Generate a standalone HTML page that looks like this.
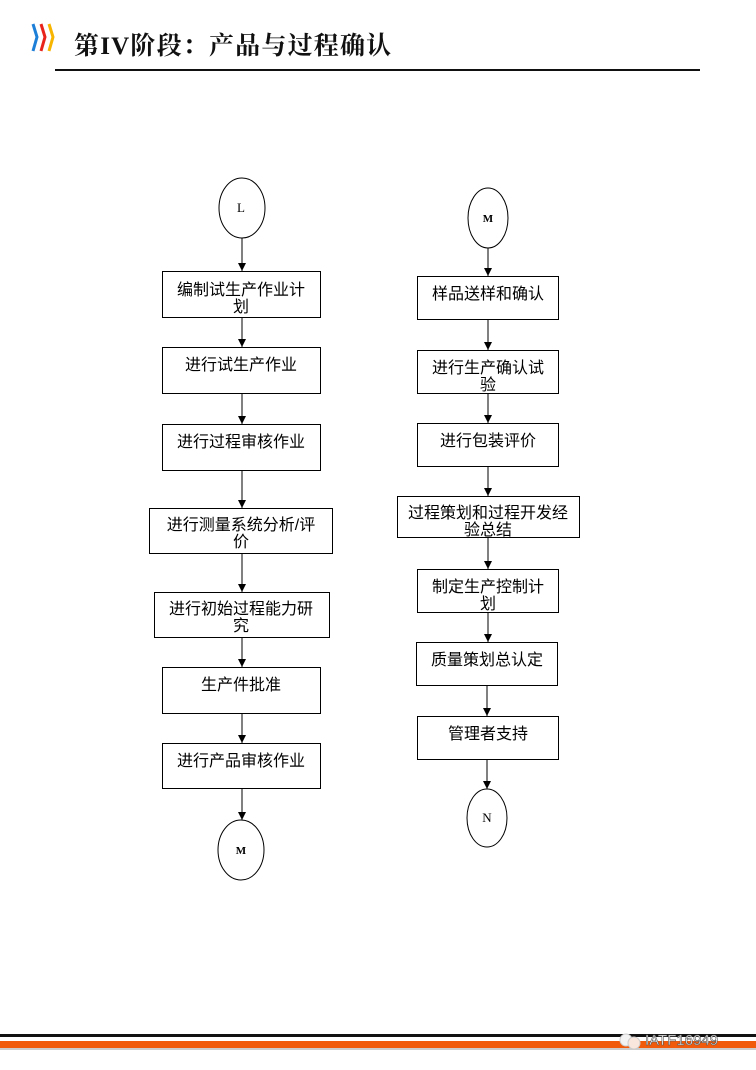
<!DOCTYPE html>
<html><head><meta charset="utf-8"><style>
html,body{margin:0;padding:0;background:#fff;}
body{width:756px;height:1070px;position:relative;overflow:hidden;}
svg{position:absolute;left:0;top:0;}
.t{font-family:"Liberation Sans","Noto Sans CJK SC",sans-serif;font-size:16px;fill:#000;}
.c{font-family:"Liberation Serif",serif;font-size:13px;fill:#000;}
</style></head><body>
<svg width="756" height="1070" viewBox="0 0 756 1070" xmlns="http://www.w3.org/2000/svg">
<defs><marker id="a" markerWidth="8" markerHeight="8" refX="8" refY="4" orient="auto" markerUnits="userSpaceOnUse"><path d="M0,0 L8,4 L0,8 Z" fill="#000"/></marker></defs>
<!-- header -->
<path d="M33,24 L37,37 L33,51" stroke="#1e7fd8" stroke-width="3" fill="none"/>
<path d="M41,24 L45,37 L41,51" stroke="#e8241c" stroke-width="3" fill="none"/>
<path d="M49,24 L53,37 L49,51" stroke="#f7b500" stroke-width="3" fill="none"/>
<text x="74" y="54" style="font-family:'Liberation Serif','Noto Serif CJK SC',serif;font-size:25px;font-weight:bold;letter-spacing:1.2px;" fill="#111">第IV阶段：产品与过程确认</text>
<rect x="55" y="69" width="645" height="2" fill="#111"/>
<!-- footer -->
<rect x="0" y="1034" width="756" height="3" fill="#111"/>
<rect x="0" y="1041" width="756" height="7" fill="#f05a0a"/>
<rect x="0" y="1048" width="756" height="2" fill="#ccc"/>
<text x="645" y="1045" style="font-family:'Liberation Sans',sans-serif;font-size:15px;" fill="#fff" stroke="#555" stroke-width="0.6">IATF16949</text>
<circle cx="626" cy="1040" r="6" fill="#f3f3f3" stroke="#ccc"/>
<circle cx="634" cy="1043" r="6" fill="#f9e6dc" stroke="#ccc"/>
<g fill="none" stroke="#000" stroke-width="1">
<!-- left column -->
<ellipse cx="242" cy="208" rx="23" ry="30"/>
<rect x="162.5" y="271.5" width="158" height="46"/>
<rect x="162.5" y="347.5" width="158" height="46"/>
<rect x="162.5" y="424.5" width="158" height="46"/>
<rect x="149.5" y="508.5" width="183" height="45"/>
<rect x="154.5" y="592.5" width="175" height="45"/>
<rect x="162.5" y="667.5" width="158" height="46"/>
<rect x="162.5" y="743.5" width="158" height="45"/>
<ellipse cx="241" cy="850" rx="23" ry="30"/>
<line x1="242" y1="238" x2="242" y2="271" marker-end="url(#a)"/>
<line x1="242" y1="318" x2="242" y2="347" marker-end="url(#a)"/>
<line x1="242" y1="394" x2="242" y2="424" marker-end="url(#a)"/>
<line x1="242" y1="471" x2="242" y2="508" marker-end="url(#a)"/>
<line x1="242" y1="554" x2="242" y2="592" marker-end="url(#a)"/>
<line x1="242" y1="638" x2="242" y2="667" marker-end="url(#a)"/>
<line x1="242" y1="714" x2="242" y2="743" marker-end="url(#a)"/>
<line x1="242" y1="789" x2="242" y2="820" marker-end="url(#a)"/>
<!-- right column -->
<ellipse cx="488" cy="218" rx="20" ry="30"/>
<rect x="417.5" y="276.5" width="141" height="43"/>
<rect x="417.5" y="350.5" width="141" height="43"/>
<rect x="417.5" y="423.5" width="141" height="43"/>
<rect x="397.5" y="496.5" width="182" height="41"/>
<rect x="417.5" y="569.5" width="141" height="43"/>
<rect x="416.5" y="642.5" width="141" height="43"/>
<rect x="417.5" y="716.5" width="141" height="43"/>
<ellipse cx="487" cy="818" rx="20" ry="29"/>
<line x1="488" y1="248" x2="488" y2="276" marker-end="url(#a)"/>
<line x1="488" y1="320" x2="488" y2="350" marker-end="url(#a)"/>
<line x1="488" y1="394" x2="488" y2="423" marker-end="url(#a)"/>
<line x1="488" y1="467" x2="488" y2="496" marker-end="url(#a)"/>
<line x1="488" y1="538" x2="488" y2="569" marker-end="url(#a)"/>
<line x1="488" y1="613" x2="488" y2="642" marker-end="url(#a)"/>
<line x1="487" y1="686" x2="487" y2="716" marker-end="url(#a)"/>
<line x1="487" y1="760" x2="487" y2="789" marker-end="url(#a)"/>
</g>
<g class="c" text-anchor="middle">
<text x="241" y="212">L</text>
<text x="241" y="854" font-weight="bold" font-size="11">M</text>
<text x="488" y="222" font-weight="bold" font-size="11">M</text>
<text x="487" y="822">N</text>
</g>
<g class="t" text-anchor="middle">
<text x="241" y="295">编制试生产作业计</text><text x="241" y="312">划</text>
<text x="241" y="370">进行试生产作业</text>
<text x="241" y="447">进行过程审核作业</text>
<text x="241" y="530">进行测量系统分析/评</text><text x="241" y="547">价</text>
<text x="241" y="614">进行初始过程能力研</text><text x="241" y="631">究</text>
<text x="241" y="690">生产件批准</text>
<text x="241" y="766">进行产品审核作业</text>
<text x="488" y="299">样品送样和确认</text>
<text x="488" y="373">进行生产确认试</text><text x="488" y="390">验</text>
<text x="488" y="446">进行包装评价</text>
<text x="488" y="518">过程策划和过程开发经</text><text x="488" y="535">验总结</text>
<text x="488" y="592">制定生产控制计</text><text x="488" y="609">划</text>
<text x="487" y="665">质量策划总认定</text>
<text x="488" y="739">管理者支持</text>
</g>
</svg>
</body></html>
